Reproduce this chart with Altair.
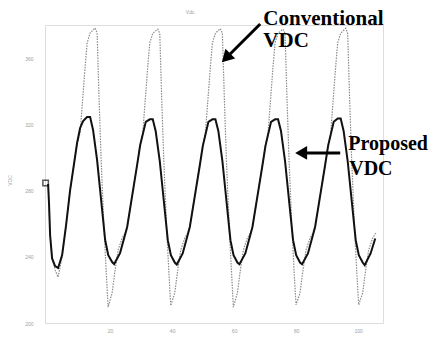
import altair as alt
import pandas as pd

# ---- Proposed VDC (solid black) : time (ms), voltage ----
prop_t = [0.0, 0.3, 0.65, 1.29, 2.26, 3.23, 4.52, 5.81, 7.10, 8.06, 9.35, 10.32, 11.29, 12.58, 13.55,
          14.5, 15.8, 17.1, 18.4, 19.4, 20.65, 21.3, 23.2, 25.5, 27.4, 28.7, 29.7,
          31.5, 32.8, 33.75, 34.7, 36.0, 37.3, 38.6, 39.6, 40.85, 41.5, 43.4, 45.7, 47.6, 48.9, 49.9,
          51.7, 53.0, 53.95, 54.9, 56.2, 57.5, 58.8, 59.8, 61.05, 61.7, 63.6, 65.9, 67.8, 69.1, 70.1,
          71.9, 73.2, 74.15, 75.1, 76.4, 77.7, 79.0, 80.0, 81.25, 81.9, 83.8, 86.1, 88.0, 89.3, 90.3,
          92.1, 93.4, 94.35, 95.3, 96.6, 97.9, 99.2, 100.2, 101.45, 102.1, 104.0, 105.5]
prop_v = [284, 272, 253, 239, 234.4, 233.2, 241.0, 259.2, 280.3, 292.4, 308.7, 317.8, 322.0, 324.4, 324.4,
          316.6, 298.4, 274.3, 250.1, 241.0, 236.8, 235.6, 242.2, 258.0, 280.3, 295.4, 307.5,
          321.5, 323.0, 323.0, 315.8, 298.0, 274.0, 250.0, 241.0, 236.5, 235.3, 242.0, 258.0, 280.0, 295.0, 307.0,
          321.5, 323.0, 323.0, 316.0, 298.0, 274.0, 250.0, 241.0, 236.5, 235.5, 242.0, 258.0, 280.0, 295.0, 307.0,
          321.5, 323.0, 323.0, 316.0, 298.0, 274.0, 250.0, 241.0, 236.5, 235.5, 242.0, 258.0, 280.0, 295.0, 307.0,
          321.5, 323.5, 323.5, 316.0, 298.0, 274.0, 250.0, 241.0, 236.5, 235.0, 242.0, 251.0]

# ---- Conventional VDC (dotted grey) ----
conv_t = [0.0, 0.3, 0.65, 1.29, 2.26, 3.23, 4.52, 5.81, 7.10, 8.06, 9.35,
          10.32, 11.93, 12.58, 13.55, 15.16, 15.81, 16.45, 17.10, 18.06, 18.71, 19.35, 20.64, 21.61, 22.58, 23.87, 24.84, 25.49, 27.42, 28.71, 29.68,
          30.52, 32.13, 32.78, 33.75, 35.36, 36.01, 36.65, 37.30, 38.26, 38.91, 39.55, 40.84, 41.81, 42.78, 44.07, 45.04, 45.69, 47.62, 48.91, 49.88,
          50.72, 52.33, 52.98, 53.95, 55.56, 56.21, 56.85, 57.50, 58.46, 59.11, 59.75, 61.04, 62.01, 62.98, 64.27, 65.24, 65.89, 67.82, 69.11, 70.08,
          70.92, 72.53, 73.18, 74.15, 75.76, 76.41, 77.05, 77.70, 78.66, 79.31, 79.95, 81.24, 82.21, 83.18, 84.47, 85.44, 86.09, 88.02, 89.31, 90.28,
          91.12, 92.73, 93.38, 94.35, 95.96, 96.61, 97.25, 97.90, 98.86, 99.51, 100.15, 101.44, 102.41, 103.38, 104.67, 105.64]
conv_v = [284, 272, 253, 239, 232, 227.7, 240, 259, 280, 292, 308.5,
          314.7, 354.6, 369.1, 375.2, 378.2, 375.2, 334.7, 298.4, 256.1, 232.0, 209.6, 218.1, 232.0, 244.1, 251.3, 254.3, 258.0, 280.3, 295.4, 307.5,
          314.7, 354.6, 369.1, 375.0, 377.5, 375.0, 334.7, 298.4, 256.1, 232.0, 210.5, 218.1, 232.0, 244.1, 251.3, 254.3, 258.0, 280.3, 295.4, 307.5,
          314.7, 354.6, 369.1, 375.0, 377.8, 375.0, 334.7, 298.4, 256.1, 232.0, 209.6, 218.1, 232.0, 244.1, 251.3, 254.3, 258.0, 280.3, 295.4, 307.5,
          314.7, 354.6, 369.1, 375.0, 377.5, 375.0, 334.7, 298.4, 256.1, 232.0, 211.0, 218.1, 232.0, 244.1, 251.3, 254.3, 258.0, 280.3, 295.4, 307.5,
          314.7, 354.6, 369.1, 375.0, 378.0, 375.0, 334.7, 298.4, 256.1, 232.0, 211.0, 218.1, 232.0, 244.1, 251.3, 254.3]

x_ticks = [20, 40, 60, 80, 100]
y_ticks = [200, 210, 220, 230, 240, 250, 260, 270, 280, 290, 300, 310, 320, 330, 340, 350, 360, 370, 380]

# annotations
label_text = ["Conventional", "VDC", "Proposed", "VDC"]
label_t = [69.4, 69.4, 96.8, 97.1]
label_v = [380.2, 366.8, 304.5, 289.4]
label_size = [21, 21, 20, 20]

top_text = ["Vdc"]
top_t = [45.8]
top_v = [386.5]

arrow_t1 = [68.4, 94.2]
arrow_v1 = [380.6, 302.7]
arrow_t2 = [58.7, 82.9]
arrow_v2 = [362.5, 302.7]
head_t = [57.4, 81.6]
head_v = [360.1, 302.7]
head_angle = [225, 270]

prop = pd.DataFrame({"t": prop_t, "v": prop_v})
conv = pd.DataFrame({"t": conv_t, "v": conv_v})
labels = pd.DataFrame({"text": label_text, "t": label_t, "v": label_v, "size": label_size})
tops = pd.DataFrame({"text": top_text, "t": top_t, "v": top_v})
arrows = pd.DataFrame({"t1": arrow_t1, "v1": arrow_v1, "t2": arrow_t2, "v2": arrow_v2})
heads = pd.DataFrame({"t": head_t, "v": head_v, "angle": head_angle})
start = pd.DataFrame({"t": [-0.8], "v": [284.5]})

xs = alt.Scale(domain=[-1, 108], nice=False, zero=False)
ys = alt.Scale(domain=[200, 380], nice=False, zero=False)

X = alt.X("t:Q", scale=xs, axis=alt.Axis(values=x_ticks, title=None, labelFontSize=5, labelColor="#a0a0a0",
                                         labelPadding=5, ticks=False, domain=False, grid=False))
Y = alt.Y("v:Q", scale=ys, axis=alt.Axis(values=y_ticks, title="VDC", labelFontSize=5, labelColor="#a0a0a0",
                                         labelPadding=12, ticks=False, domain=False, grid=False,
                                         titleFontSize=5, titleColor="#a0a0a0", titleFontWeight="normal",
                                         titleX=-33, titleY=155))

conv_line = alt.Chart(conv).mark_line(color="#8a8a8a", strokeWidth=1.2, strokeDash=[1.5, 1.2]).encode(
    x=X, y=Y, order="t:Q")
prop_line = alt.Chart(prop).mark_line(color="#111111", strokeWidth=2).encode(
    x="t:Q", y="v:Q", order="t:Q")
marker = alt.Chart(start).mark_point(shape="square", filled=False, color="#111111", size=30, strokeWidth=1.5).encode(
    x="t:Q", y="v:Q")
shafts = alt.Chart(arrows).mark_rule(color="#000000", strokeWidth=3).encode(
    x="t1:Q", y="v1:Q", x2="t2:Q", y2="v2:Q")
arrowheads = alt.Chart(heads).mark_point(shape="triangle-up", filled=True, color="#000000", size=190, opacity=1).encode(
    x="t:Q", y="v:Q", angle=alt.Angle("angle:Q", scale=None))
texts = alt.Chart(labels).mark_text(font="Liberation Serif", fontWeight="bold", align="left",
                                    baseline="alphabetic", color="#000000").encode(
    x="t:Q", y="v:Q", text="text:N", size=alt.Size("size:Q", scale=None))
top_label = alt.Chart(tops).mark_text(fontSize=5, color="#a0a0a0", align="center", baseline="alphabetic").encode(
    x="t:Q", y="v:Q", text="text:N")

chart = alt.layer(conv_line, prop_line, marker, shafts, arrowheads, texts, top_label).properties(
    width=338, height=298,
    autosize=alt.AutoSizeParams(type="none"),
    padding={"left": 37, "top": 17, "right": 52, "bottom": 12},
).configure_view(stroke=None).configure(background="white")

chart.save("out.html", embed_options={"renderer": "svg", "actions": False})
